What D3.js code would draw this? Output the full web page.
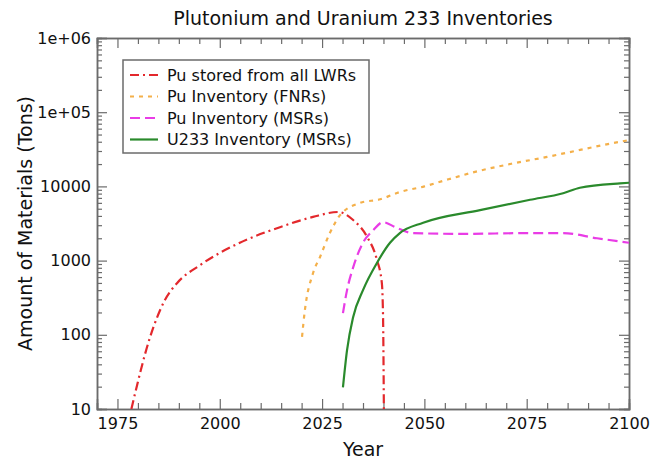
<!DOCTYPE html>
<html lang="en">
  <head>
    <meta charset="UTF-8" />
    <title>Plutonium and Uranium 233 Inventories</title>
    <script src="https://d3js.org/d3.v7.min.js"></script>
    <style>
      body { margin: 0; background: #fff; }
      svg text { font-family: "DejaVu Sans", sans-serif; fill: #111; }
    </style>
  </head>
  <body>
    <div id="chart"></div>
    <script>
      // data
      const yTickValues = [10, 100, 1000, 10000, 100000, 1000000];
      const yTickLabels = ["10", "100", "1000", "10000", "1e+05", "1e+06"];
      const xTickValues = [1975, 2000, 2025, 2050, 2075, 2100];

      const lwrYears = [1978.4, 1983, 1986.6, 1989.6, 1995.2, 2004.9, 2014.7, 2022.8, 2028.9, 2032.6, 2036, 2038.4, 2039.6, 2039.9, 2040.1];
      const lwrPu = [10, 94, 295, 500, 870, 1740, 2820, 3880, 4520, 3520, 2090, 1025, 500, 174, 10];

      const fnrYears = [2020.1, 2020.8, 2022.8, 2024.5, 2026.9, 2029.4, 2034.3, 2039.2, 2044, 2050, 2055.5, 2063, 2071.7, 2080, 2088, 2097.8, 2100];
      const fnrPu = [94, 215, 680, 1120, 2350, 4100, 6000, 6700, 8400, 10000, 12300, 16000, 20400, 25000, 31000, 40000, 42000];

      const msrYears = [2030.1, 2031.1, 2032.6, 2035, 2037.5, 2039.9, 2043, 2047.2, 2059.4, 2075.8, 2083.9, 2092.2, 2100];
      const msrPu = [196, 400, 810, 1740, 2570, 3300, 2800, 2350, 2290, 2350, 2350, 2000, 1740];

      const msrYears233 = [2030.1, 2031.1, 2032.6, 2035, 2038.4, 2041.6, 2044, 2049.7, 2063.6, 2075.8, 2083.9, 2088, 2097.8, 2100];
      const msrU233 = [19.5, 62, 174, 400, 930, 1740, 2350, 3240, 4800, 6600, 8100, 9600, 11000, 11200];

      const seriesNames = ["Pu stored from all LWRs", "Pu Inventory (FNRs)", "Pu Inventory (MSRs)", "U233 Inventory (MSRs)"];

      const series = [
        { name: seriesNames[0], years: lwrYears, values: lwrPu, color: "#e3282c", dash: "9,4,2,4" },
        { name: seriesNames[1], years: fnrYears, values: fnrPu, color: "#f4b04a", dash: "4,5" },
        { name: seriesNames[2], years: msrYears, values: msrPu, color: "#e93ce6", dash: "10,5" },
        { name: seriesNames[3], years: msrYears233, values: msrU233, color: "#2a8a2c", dash: null },
      ];

      const w = 662;
      const h = 463;
      const margin = { top: 38, right: 33, bottom: 54, left: 97 };

      const svg = d3
        .select("#chart")
        .append("svg")
        .attr("width", w)
        .attr("height", h);

      const xScale = d3
        .scaleLinear()
        .domain([1970, 2100])
        .range([margin.left, w - margin.right]);

      const yScale = d3
        .scaleLog()
        .domain([10, 1e6])
        .range([h - margin.bottom, margin.top]);

      // minor ticks
      const xMinor = d3.range(1970, 2101, 5).filter((d) => d % 25 !== 0);
      const yMinor = [];
      for (let p = 10; p < 1e6; p *= 10) {
        for (let k = 2; k <= 9; k++) yMinor.push(p * k);
      }

      const axisColor = "#6b6b6b";
      const fmt = (d) => yTickLabels[yTickValues.indexOf(d)];

      // bottom axis
      svg
        .append("g")
        .attr("transform", `translate(0, ${h - margin.bottom})`)
        .call(d3.axisBottom(xScale).tickValues(xTickValues).tickFormat(d3.format("d")).tickSize(-10).tickPadding(6))
        .call((g) => g.selectAll("text").attr("font-size", 16).attr("dy", "0.9em"));
      svg
        .append("g")
        .attr("transform", `translate(0, ${h - margin.bottom})`)
        .call(d3.axisBottom(xScale).tickValues(xMinor).tickFormat("").tickSize(-6));

      // top axis
      svg
        .append("g")
        .attr("transform", `translate(0, ${margin.top})`)
        .call(d3.axisTop(xScale).tickValues(xTickValues).tickFormat("").tickSize(-10));
      svg
        .append("g")
        .attr("transform", `translate(0, ${margin.top})`)
        .call(d3.axisTop(xScale).tickValues(xMinor).tickFormat("").tickSize(-6));

      // left axis
      svg
        .append("g")
        .attr("transform", `translate(${margin.left}, 0)`)
        .call(d3.axisLeft(yScale).tickValues(yTickValues).tickFormat(fmt).tickSize(-10).tickPadding(6))
        .call((g) => g.selectAll("text").attr("font-size", 16));
      svg
        .append("g")
        .attr("transform", `translate(${margin.left}, 0)`)
        .call(d3.axisLeft(yScale).tickValues(yMinor).tickFormat("").tickSize(-5));

      // right axis
      svg
        .append("g")
        .attr("transform", `translate(${w - margin.right}, 0)`)
        .call(d3.axisRight(yScale).tickValues(yTickValues).tickFormat("").tickSize(-10));
      svg
        .append("g")
        .attr("transform", `translate(${w - margin.right}, 0)`)
        .call(d3.axisRight(yScale).tickValues(yMinor).tickFormat("").tickSize(-5));

      svg.selectAll(".domain").attr("stroke", axisColor).attr("stroke-width", 1.5);
      svg.selectAll(".tick line").attr("stroke", axisColor).attr("stroke-width", 1.2);

      // clip to plot area
      svg
        .append("clipPath")
        .attr("id", "plot-clip")
        .append("rect")
        .attr("x", margin.left)
        .attr("y", margin.top)
        .attr("width", w - margin.left - margin.right)
        .attr("height", h - margin.top - margin.bottom);

      const line = d3
        .line()
        .x((d) => xScale(d[0]))
        .y((d) => yScale(d[1]))
        .curve(d3.curveMonotoneX);

      svg
        .append("g")
        .attr("clip-path", "url(#plot-clip)")
        .selectAll("path")
        .data(series)
        .enter()
        .append("path")
        .attr("d", (s) => line(s.years.map((y, i) => [y, s.values[i]])))
        .attr("fill", "none")
        .attr("stroke", (s) => s.color)
        .attr("stroke-width", 2.2)
        .attr("stroke-dasharray", (s) => s.dash);

      // title and axis labels
      svg
        .append("text")
        .attr("x", (margin.left + w - margin.right) / 2)
        .attr("y", 25)
        .attr("text-anchor", "middle")
        .attr("font-size", 19)
        .text("Plutonium and Uranium 233 Inventories");

      svg
        .append("text")
        .attr("x", (margin.left + w - margin.right) / 2)
        .attr("y", 456)
        .attr("text-anchor", "middle")
        .attr("font-size", 19)
        .text("Year");

      svg
        .append("text")
        .attr("transform", `translate(25, ${(margin.top + h - margin.bottom) / 2}) rotate(-90)`)
        .attr("text-anchor", "middle")
        .attr("dy", "0.35em")
        .attr("font-size", 19)
        .text("Amount of Materials (Tons)");

      // legend
      const legend = svg.append("g").attr("transform", "translate(123, 60)");
      legend
        .append("rect")
        .attr("width", 246)
        .attr("height", 93)
        .attr("fill", "#fff")
        .attr("stroke", axisColor)
        .attr("stroke-width", 1.5);

      const rows = legend
        .selectAll(".row")
        .data(series)
        .enter()
        .append("g")
        .attr("class", "row")
        .attr("transform", (d, i) => `translate(0, ${15 + i * 21.5})`);

      rows
        .append("line")
        .attr("x1", 7)
        .attr("x2", 35)
        .attr("stroke", (d) => d.color)
        .attr("stroke-width", 2.2)
        .attr("stroke-dasharray", (d) => d.dash);

      rows
        .append("text")
        .attr("x", 44)
        .attr("dy", "0.35em")
        .attr("font-size", 16)
        .text((d) => d.name);
    </script>
  </body>
</html>
